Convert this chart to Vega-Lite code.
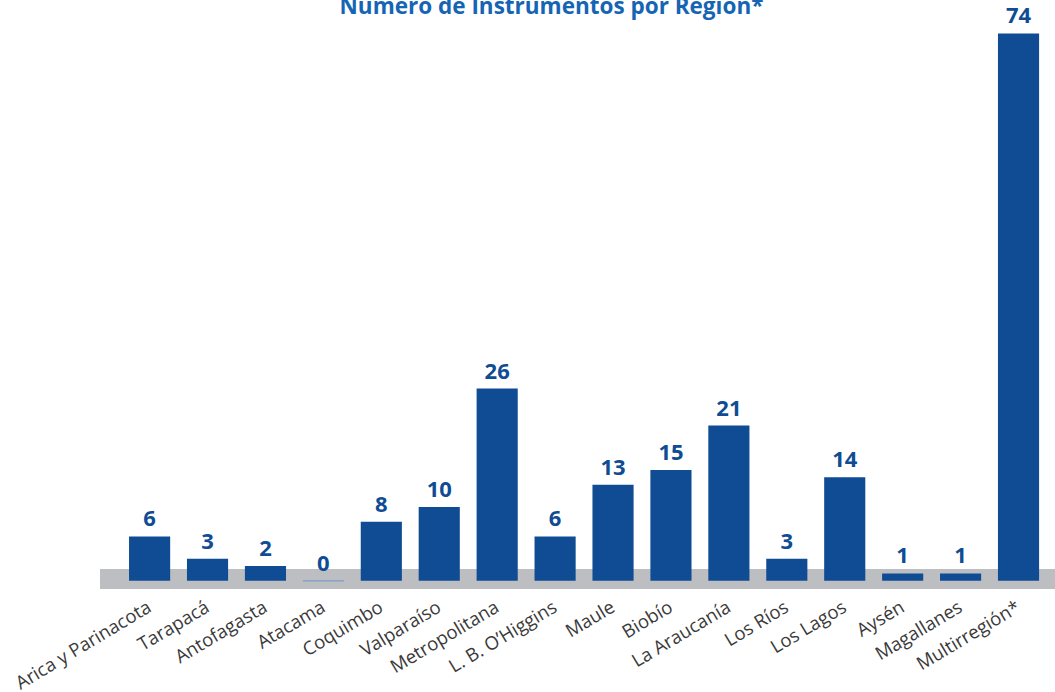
{
  "$schema": "https://vega.github.io/schema/vega-lite/v6.json",
  "width": 955,
  "height": 563,
  "autosize": "none",
  "padding": {"left": 100, "top": 26, "right": 0, "bottom": 103},
  "background": "white",
  "config": {"view": {"stroke": null}},
  "title": {
    "text": "Número de Instrumentos por Región*",
    "font": "Open Sans",
    "fontSize": 22.5,
    "fontWeight": "bold",
    "color": "#1565B4",
    "anchor": "middle",
    "dx": -26,
    "dy": 19,
    "offset": 6
  },
  "data": {
    "values": [
      {"region": "Arica y Parinacota", "n": 6},
      {"region": "Tarapacá", "n": 3},
      {"region": "Antofagasta", "n": 2},
      {"region": "Atacama", "n": 0},
      {"region": "Coquimbo", "n": 8},
      {"region": "Valparaíso", "n": 10},
      {"region": "Metropolitana", "n": 26},
      {"region": "L. B. O’Higgins", "n": 6},
      {"region": "Maule", "n": 13},
      {"region": "Biobío", "n": 15},
      {"region": "La Araucanía", "n": 21},
      {"region": "Los Ríos", "n": 3},
      {"region": "Los Lagos", "n": 14},
      {"region": "Aysén", "n": 1},
      {"region": "Magallanes", "n": 1},
      {"region": "Multirregión*", "n": 74}
    ]
  },
  "encoding": {
    "x": {
      "field": "region",
      "type": "nominal",
      "sort": null,
      "scale": {"paddingInner": 0.29, "paddingOuter": 0.388, "align": 0.646},
      "axis": {
        "title": null,
        "domain": false,
        "ticks": false,
        "labelAngle": -31,
        "labelAlign": "right",
        "labelBaseline": "middle",
        "labelPadding": 16,
        "labelFont": "Open Sans",
        "labelFontSize": 18.5,
        "labelColor": "#3a3a3a",
        "labelOverlap": false,
        "labelLimit": 300
      }
    }
  },
  "layer": [
    {
      "mark": {"type": "rect", "color": "#BDBEC2"},
      "encoding": {
        "x": null,
        "y": {"datum": 1.5, "type": "quantitative", "scale": {"domain": [-1.1, 75], "nice": false, "zero": false}, "axis": null},
        "y2": {"datum": -1.1}
      }
    },
    {
      "mark": {"type": "bar", "color": "#0F4C94"},
      "encoding": {
        "y": {"field": "n", "type": "quantitative", "scale": {"domain": [-1.1, 75], "nice": false, "zero": false}, "axis": null}
      }
    },
    {
      "transform": [{"filter": "datum.n == 0"}],
      "mark": {"type": "bar", "color": "#7F9CC8"},
      "encoding": {
        "y": {"datum": 0.07, "type": "quantitative"},
        "y2": {"datum": -0.07}
      }
    },
    {
      "mark": {"type": "text", "font": "Open Sans", "fontSize": 22, "fontWeight": "bold", "color": "#0F4C94", "baseline": "alphabetic", "dy": -10},
      "encoding": {
        "y": {"field": "n", "type": "quantitative"},
        "text": {"field": "n", "type": "quantitative"}
      }
    }
  ]
}
